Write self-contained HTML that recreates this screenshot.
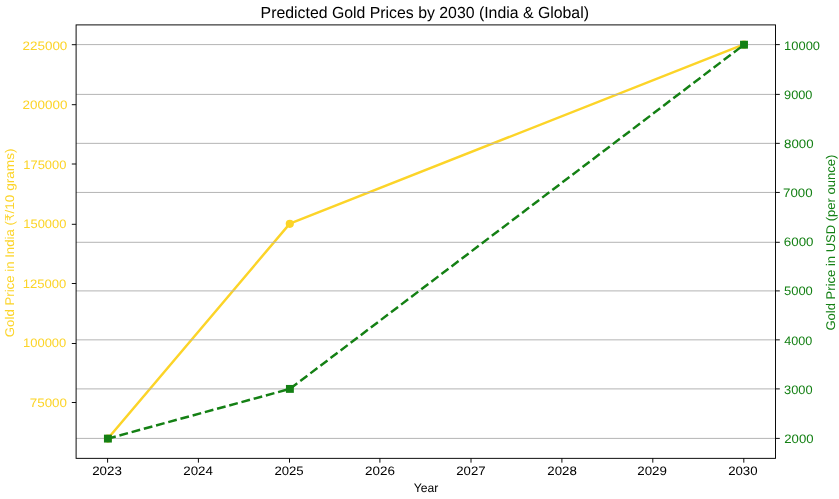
<!DOCTYPE html>
<html><head><meta charset="utf-8"><title>Predicted Gold Prices by 2030</title><style>
html,body{margin:0;padding:0;background:#fff;width:839px;height:499px;overflow:hidden;}
svg{display:block;will-change:transform;}
text{font-family:"Liberation Sans", sans-serif;text-rendering:geometricPrecision;}
</style></head><body>
<svg width="839" height="499" viewBox="0 0 839 499">
<rect width="839" height="499" fill="#fff"/>
<polyline fill="none" stroke="#FCD428" stroke-width="2.45" stroke-linejoin="round" stroke-linecap="square" points="107.90,438.60 289.80,223.60 744.00,44.30"/>
<circle cx="107.90" cy="438.60" r="4.1" fill="#FCD428"/>
<circle cx="289.80" cy="223.80" r="4.1" fill="#FCD428"/>
<circle cx="744.00" cy="44.70" r="4.1" fill="#FCD428"/>
<line x1="107.60" y1="458.35" x2="107.60" y2="462.65" stroke="#000" stroke-width="0.95"/>
<line x1="198.40" y1="458.35" x2="198.40" y2="462.65" stroke="#000" stroke-width="0.95"/>
<line x1="289.50" y1="458.35" x2="289.50" y2="462.65" stroke="#000" stroke-width="0.95"/>
<line x1="379.90" y1="458.35" x2="379.90" y2="462.65" stroke="#000" stroke-width="0.95"/>
<line x1="471.00" y1="458.35" x2="471.00" y2="462.65" stroke="#000" stroke-width="0.95"/>
<line x1="561.90" y1="458.35" x2="561.90" y2="462.65" stroke="#000" stroke-width="0.95"/>
<line x1="652.80" y1="458.35" x2="652.80" y2="462.65" stroke="#000" stroke-width="0.95"/>
<line x1="743.80" y1="458.35" x2="743.80" y2="462.65" stroke="#000" stroke-width="0.95"/>
<line x1="71.80" y1="402.50" x2="76.10" y2="402.50" stroke="#000" stroke-width="0.95"/>
<line x1="71.80" y1="343.50" x2="76.10" y2="343.50" stroke="#000" stroke-width="0.95"/>
<line x1="71.80" y1="283.50" x2="76.10" y2="283.50" stroke="#000" stroke-width="0.95"/>
<line x1="71.80" y1="224.30" x2="76.10" y2="224.30" stroke="#000" stroke-width="0.95"/>
<line x1="71.80" y1="164.00" x2="76.10" y2="164.00" stroke="#000" stroke-width="0.95"/>
<line x1="71.80" y1="104.70" x2="76.10" y2="104.70" stroke="#000" stroke-width="0.95"/>
<line x1="71.80" y1="44.70" x2="76.10" y2="44.70" stroke="#000" stroke-width="0.95"/>
<line x1="76.10" y1="438.40" x2="775.50" y2="438.40" stroke="#b0b0b0" stroke-width="0.95"/>
<line x1="76.10" y1="388.90" x2="775.50" y2="388.90" stroke="#b0b0b0" stroke-width="0.95"/>
<line x1="76.10" y1="339.85" x2="775.50" y2="339.85" stroke="#b0b0b0" stroke-width="0.95"/>
<line x1="76.10" y1="290.90" x2="775.50" y2="290.90" stroke="#b0b0b0" stroke-width="0.95"/>
<line x1="76.10" y1="242.30" x2="775.50" y2="242.30" stroke="#b0b0b0" stroke-width="0.95"/>
<line x1="76.10" y1="192.45" x2="775.50" y2="192.45" stroke="#b0b0b0" stroke-width="0.95"/>
<line x1="76.10" y1="143.35" x2="775.50" y2="143.35" stroke="#b0b0b0" stroke-width="0.95"/>
<line x1="76.10" y1="94.40" x2="775.50" y2="94.40" stroke="#b0b0b0" stroke-width="0.95"/>
<line x1="76.10" y1="44.60" x2="775.50" y2="44.60" stroke="#b0b0b0" stroke-width="0.95"/>
<polyline fill="none" stroke="#148014" stroke-width="2.45" stroke-linejoin="round" stroke-dasharray="8.83 3.82" stroke-dashoffset="0.7" points="107.90,438.60 289.90,388.90 744.00,44.70"/>
<rect x="103.95" y="434.65" width="7.9" height="7.9" fill="#148014"/>
<rect x="285.95" y="384.95" width="7.9" height="7.9" fill="#148014"/>
<rect x="740.05" y="40.75" width="7.9" height="7.9" fill="#148014"/>
<rect x="76.10" y="24.90" width="699.40" height="433.45" fill="none" stroke="#000" stroke-width="0.95"/>
<line x1="775.50" y1="438.40" x2="779.80" y2="438.40" stroke="#000" stroke-width="0.95"/>
<line x1="775.50" y1="388.90" x2="779.80" y2="388.90" stroke="#000" stroke-width="0.95"/>
<line x1="775.50" y1="339.85" x2="779.80" y2="339.85" stroke="#000" stroke-width="0.95"/>
<line x1="775.50" y1="290.90" x2="779.80" y2="290.90" stroke="#000" stroke-width="0.95"/>
<line x1="775.50" y1="242.30" x2="779.80" y2="242.30" stroke="#000" stroke-width="0.95"/>
<line x1="775.50" y1="192.45" x2="779.80" y2="192.45" stroke="#000" stroke-width="0.95"/>
<line x1="775.50" y1="143.35" x2="779.80" y2="143.35" stroke="#000" stroke-width="0.95"/>
<line x1="775.50" y1="94.40" x2="779.80" y2="94.40" stroke="#000" stroke-width="0.95"/>
<line x1="775.50" y1="44.60" x2="779.80" y2="44.60" stroke="#000" stroke-width="0.95"/>
<text x="260.60" y="18.00" font-size="16.10" textLength="328.37" lengthAdjust="spacingAndGlyphs" fill="#000">Predicted Gold Prices by 2030 (India &amp; Global)</text>
<text x="92.17" y="475.00" font-size="12.25" textLength="29.65" lengthAdjust="spacingAndGlyphs" fill="#000">2023</text>
<text x="183.28" y="475.00" font-size="12.25" textLength="29.68" lengthAdjust="spacingAndGlyphs" fill="#000">2024</text>
<text x="274.42" y="475.00" font-size="12.25" textLength="29.27" lengthAdjust="spacingAndGlyphs" fill="#000">2025</text>
<text x="365.10" y="475.00" font-size="12.25" textLength="29.86" lengthAdjust="spacingAndGlyphs" fill="#000">2026</text>
<text x="456.27" y="475.00" font-size="12.25" textLength="29.34" lengthAdjust="spacingAndGlyphs" fill="#000">2027</text>
<text x="547.36" y="475.00" font-size="12.25" textLength="29.50" lengthAdjust="spacingAndGlyphs" fill="#000">2028</text>
<text x="637.24" y="475.00" font-size="12.25" textLength="29.69" lengthAdjust="spacingAndGlyphs" fill="#000">2029</text>
<text x="728.15" y="475.00" font-size="12.25" textLength="29.42" lengthAdjust="spacingAndGlyphs" fill="#000">2030</text>
<text x="413.75" y="492.00" font-size="12.25" textLength="24.54" lengthAdjust="spacingAndGlyphs" fill="#000">Year</text>
<text x="29.74" y="407.00" font-size="12.25" textLength="37.25" lengthAdjust="spacingAndGlyphs" fill="#FCD428">75000</text>
<text x="22.99" y="347.00" font-size="12.25" textLength="43.31" lengthAdjust="spacingAndGlyphs" fill="#FCD428">100000</text>
<text x="22.87" y="288.00" font-size="12.25" textLength="43.48" lengthAdjust="spacingAndGlyphs" fill="#FCD428">125000</text>
<text x="23.32" y="228.00" font-size="12.25" textLength="43.08" lengthAdjust="spacingAndGlyphs" fill="#FCD428">150000</text>
<text x="23.37" y="169.00" font-size="12.25" textLength="43.03" lengthAdjust="spacingAndGlyphs" fill="#FCD428">175000</text>
<text x="22.54" y="109.00" font-size="12.25" textLength="44.83" lengthAdjust="spacingAndGlyphs" fill="#FCD428">200000</text>
<text x="22.53" y="50.00" font-size="12.25" textLength="44.83" lengthAdjust="spacingAndGlyphs" fill="#FCD428">225000</text>
<text x="784.29" y="443.00" font-size="12.25" textLength="29.30" lengthAdjust="spacingAndGlyphs" fill="#148014">2000</text>
<text x="784.02" y="394.00" font-size="12.25" textLength="28.54" lengthAdjust="spacingAndGlyphs" fill="#148014">3000</text>
<text x="784.33" y="345.00" font-size="12.25" textLength="28.07" lengthAdjust="spacingAndGlyphs" fill="#148014">4000</text>
<text x="783.95" y="295.00" font-size="12.25" textLength="28.90" lengthAdjust="spacingAndGlyphs" fill="#148014">5000</text>
<text x="783.83" y="246.00" font-size="12.25" textLength="29.72" lengthAdjust="spacingAndGlyphs" fill="#148014">6000</text>
<text x="783.08" y="197.00" font-size="12.25" textLength="29.52" lengthAdjust="spacingAndGlyphs" fill="#148014">7000</text>
<text x="784.10" y="148.00" font-size="12.25" textLength="29.50" lengthAdjust="spacingAndGlyphs" fill="#148014">8000</text>
<text x="784.09" y="99.00" font-size="12.25" textLength="28.39" lengthAdjust="spacingAndGlyphs" fill="#148014">9000</text>
<text x="784.14" y="50.00" font-size="12.25" textLength="35.89" lengthAdjust="spacingAndGlyphs" fill="#148014">10000</text>
<g transform="translate(14.00,337.17) rotate(-90)"><text x="0" y="0" font-size="12.60" textLength="116.09" lengthAdjust="spacingAndGlyphs" fill="#FCD428">Gold Price in India (</text><path transform="translate(116.09,0) scale(0.00580,-0.00591)" d="M106 1370 161 1493H1199L1144 1370H790Q869 1292 890 1163H1199L1144 1040H898Q893 914 832 829Q767 736 642 700Q707 678 768 606Q827 538 892 408L1097 0H880L689 383Q614 534 546 582Q476 631 356 631H136V797H390Q536 797 610 864Q678 926 684 1040H106L161 1163H673Q655 1230 610 1282Q536 1370 390 1370Z" fill="#FCD428"/><text x="123.65" y="0" font-size="12.60" textLength="65.04" lengthAdjust="spacingAndGlyphs" fill="#FCD428">/10 grams)</text></g>
<g transform="translate(835.00,330.52) rotate(-90)"><text x="0" y="0" font-size="12.60" textLength="175.91" lengthAdjust="spacingAndGlyphs" fill="#148014">Gold Price in USD (per ounce)</text></g>
</svg>
</body></html>
